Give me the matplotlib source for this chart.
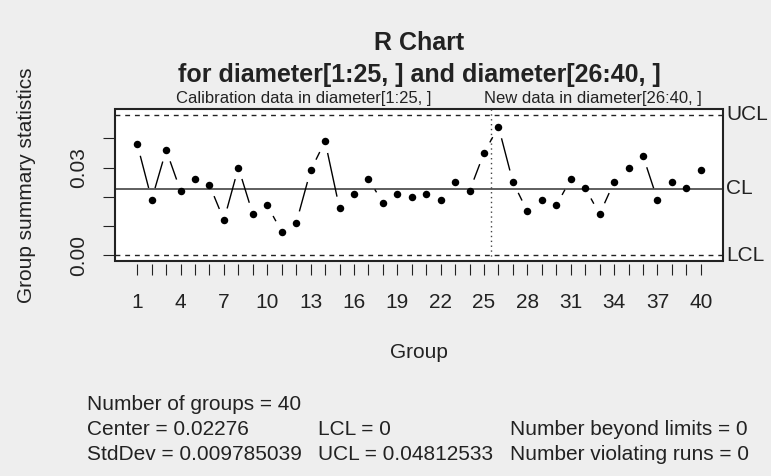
import numpy as np
import matplotlib
matplotlib.use("Agg")
import matplotlib.pyplot as plt
from matplotlib.patches import Rectangle

# ---- data ----
calib_ranges = [0.038, 0.019, 0.036, 0.022, 0.026, 0.024, 0.012, 0.030, 0.014, 0.017,
                0.008, 0.011, 0.029, 0.039, 0.016, 0.021, 0.026, 0.018, 0.021, 0.020,
                0.021, 0.019, 0.025, 0.022, 0.035]
new_ranges = [0.044, 0.025, 0.015, 0.019, 0.017, 0.026, 0.023, 0.014, 0.025, 0.030,
              0.034, 0.019, 0.025, 0.023, 0.029]
center = 0.02276
lcl = 0.0
ucl = 0.04812533
stddev = 0.009785039
yticks = [0.00, 0.01, 0.02, 0.03, 0.04]
ytick_labels = ["0.00", "", "", "0.03", ""]
title = "R Chart\nfor diameter[1:25, ] and diameter[26:40, ]"
calib_label = "Calibration data in diameter[1:25, ]"
new_label = "New data in diameter[26:40, ]"

values = calib_ranges + new_ranges
n = len(values)
groups = list(range(1, n + 1))
xlabels = [str(g) if (g - 1) % 3 == 0 else "" for g in groups]

FONT = "Liberation Sans"
plt.rcParams["font.family"] = [FONT, "DejaVu Sans"]
BASE = 15

W, H = 771, 476
fig = plt.figure(figsize=(W / 100, H / 100), dpi=100)
fig.patch.set_facecolor("#EEEEEE")

L, R, T, B = 114.7, 723.3, 109.0, 260.7
ax = fig.add_axes([L / W, 1 - B / H, (R - L) / W, (B - T) / H])
ax.set_facecolor("white")

xr = n - 1
ax.set_xlim(1 - 0.04 * xr, n + 0.04 * xr)
yr = ucl - lcl
ax.set_ylim(lcl - 0.04 * yr, ucl + 0.04 * yr)

for s in ax.spines.values():
    s.set_visible(False)
ax.spines["bottom"].set_position(("outward", 2.3))
ax.add_patch(Rectangle((0, 0), 1, 1, transform=ax.transAxes, fill=False,
                       lw=1.5, ec="#222222", zorder=10, clip_on=False))

# control lines
ax.axhline(center, color="#333333", lw=1.1, zorder=2)
ax.axhline(ucl, color="#222222", lw=1.0, ls=(0, (3.5, 3.5)), zorder=2)
ax.axhline(lcl, color="#222222", lw=1.0, ls=(0, (3.5, 3.5)), zorder=2)
ax.axvline(len(calib_ranges) + 0.5, color="#444444", lw=1.0, ls=(0, (1, 2.5)), zorder=2)

# points
ax.plot(groups, values, "o", color="black", ms=5.4, zorder=5, mec="black", mew=0)

# type = "b" style segments with gaps around points
fig.canvas.draw()
tr = ax.transData
inv = tr.inverted()
pts = tr.transform(np.column_stack([groups, values]))
gap = 12.0
for i in range(n - 1):
    p0, p1 = pts[i], pts[i + 1]
    d = p1 - p0
    dist = np.hypot(*d)
    if dist > 2 * gap:
        u = d / dist
        a = inv.transform(p0 + u * gap)
        b = inv.transform(p1 - u * gap)
        ax.plot([a[0], b[0]], [a[1], b[1]], color="black", lw=1.0, zorder=4,
                solid_capstyle="butt")

# axes ticks
ax.set_xticks(groups)
ax.set_xticklabels(xlabels, fontsize=BASE)
ax.tick_params(axis="x", length=8, width=0.8, pad=13, colors="#222222", labelcolor="#222222")
ax.set_yticks(yticks)
ax.set_yticklabels(ytick_labels, fontsize=BASE, rotation=90, va="center")
ax.tick_params(axis="y", length=9, width=0.8, pad=10, colors="#222222", labelcolor="#222222")

# right-side labels
for v, lab in [(ucl, "UCL"), (center, "CL"), (lcl, "LCL")]:
    ax.annotate(lab, xy=(1, v), xycoords=("axes fraction", "data"),
                xytext=(2, 0), textcoords="offset points", ha="left", va="center",
                fontsize=BASE, color="#222222", annotation_clip=False)

# subtitles
ax.annotate(calib_label, xy=(len(calib_ranges) / 2, 1), xycoords=("data", "axes fraction"),
            xytext=(0, 2.5), textcoords="offset points", ha="center", va="bottom",
            fontsize=BASE * 0.8, color="#222222", annotation_clip=False)
ax.annotate(new_label, xy=(len(calib_ranges) + len(new_ranges) / 2, 1),
            xycoords=("data", "axes fraction"),
            xytext=(0, 2.5), textcoords="offset points", ha="center", va="bottom",
            fontsize=BASE * 0.8, color="#222222", annotation_clip=False)

cx = (L + R) / 2 / W
t1, t2 = title.split("\n")
fig.text(cx, 1 - 50 / H, t1, ha="center", va="baseline", fontsize=BASE * 1.2,
         fontweight="bold", color="#222222")
fig.text(cx, 1 - 81.7 / H, t2, ha="center", va="baseline", fontsize=BASE * 1.2,
         fontweight="bold", color="#222222")

fig.text(cx, 1 - 357.7 / H, "Group", ha="center", va="baseline", fontsize=BASE, color="#222222")
fig.text(27 / W, 1 - (T + B) / 2 / H, "Group summary statistics", ha="center", va="center",
         rotation=90, fontsize=BASE, color="#222222")

# summary statistics
rows = [
    ("Number of groups = %d" % n, "", ""),
    ("Center = %s" % format(center, "g"), "LCL = %g" % lcl, "Number beyond limits = 0"),
    ("StdDev = %s" % format(stddev, ".9f"), "UCL = %s" % format(ucl, ".8f"), "Number violating runs = 0"),
]
cols = [87.3, 318.0, 510.0]
bases = [410, 435, 460]
for r, yb in zip(rows, bases):
    for txt, xc in zip(r, cols):
        if txt:
            fig.text(xc / W, 1 - yb / H, txt, ha="left", va="baseline", fontsize=BASE, color="#222222")

fig.savefig("out.png", dpi=100, facecolor=fig.get_facecolor())
